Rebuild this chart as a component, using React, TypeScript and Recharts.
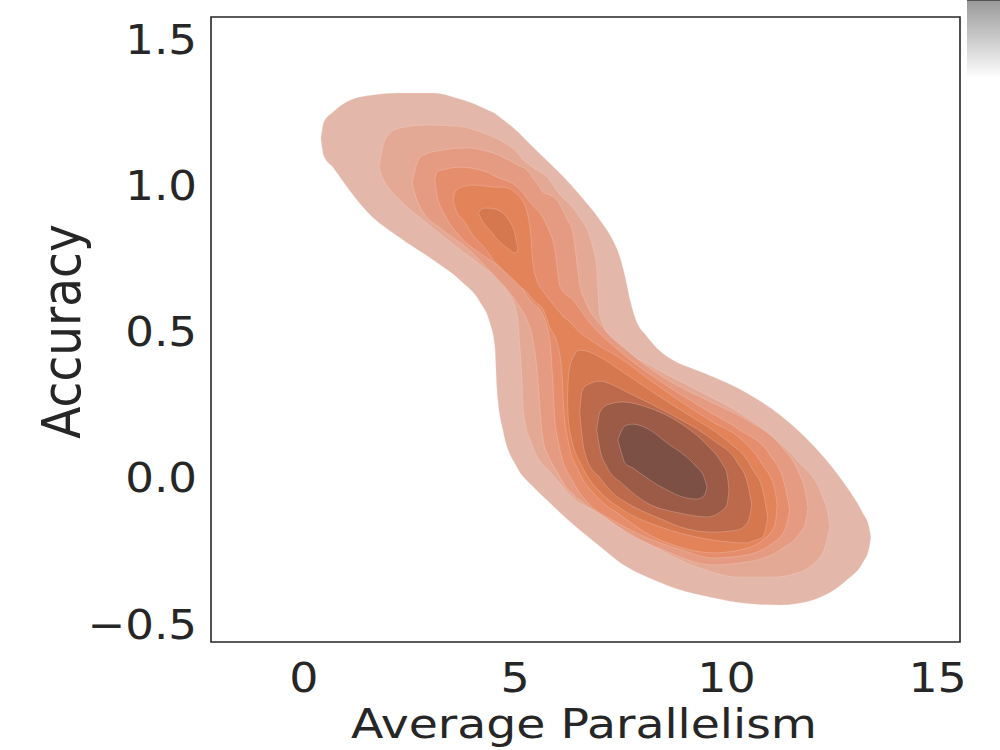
import React from "react";
import { ComposedChart, Area, XAxis, YAxis, ReferenceArea } from "recharts";

// KDE contour bands, outermost first. Each row: [x, lower y, upper y]
const level1: number[][] = [
  [0.40, 1.16, 1.16], [0.47, 1.10, 1.215], [0.69, 1.06, 1.25], [1.09, 0.98, 1.29],
  [1.49, 0.91, 1.305], [2.27, 0.82, 1.315], [3.05, 0.745, 1.315], [3.69, 0.676, 1.294],
  [4.17, 0.60, 1.269], [4.40, 0.53, 1.253], [4.52, 0.446, 1.245], [4.57, 0.30, 1.24],
  [4.71, 0.163, 1.224], [5.04, 0.037, 1.185], [5.42, -0.03, 1.13], [5.75, -0.076, 1.084],
  [6.22, -0.14, 1.017], [6.53, -0.179, 0.966], [7.01, -0.235, 0.88], [7.31, -0.271, 0.812],
  [7.48, -0.29, 0.754], [7.62, -0.303, 0.676], [7.72, -0.311, 0.607], [7.86, -0.322, 0.539],
  [8.12, -0.339, 0.483], [8.43, -0.358, 0.433], [8.78, -0.378, 0.398], [9.25, -0.397, 0.37],
  [9.68, -0.41, 0.345], [10.49, -0.43, 0.289], [11.27, -0.435, 0.214], [12.05, -0.418, 0.111],
  [12.85, -0.35, -0.032], [13.23, -0.29, -0.121], [13.38, -0.24, -0.17], [13.42, -0.205, -0.205],
];

const level2: number[][] = [
  [1.78, 1.06, 1.06], [1.85, 1.03, 1.12], [1.96, 1.0, 1.165], [2.27, 0.949, 1.195],
  [2.91, 0.87, 1.205], [3.62, 0.788, 1.202], [4.24, 0.72, 1.178], [4.80, 0.641, 1.14],
  [5.04, 0.563, 1.113], [5.11, 0.447, 1.10], [5.16, 0.334, 1.09], [5.20, 0.22, 1.085],
  [5.42, 0.105, 1.06], [5.82, 0.02, 1.017], [5.99, -0.008, 0.98], [6.46, -0.08, 0.904],
  [6.84, -0.11, 0.788], [6.93, -0.115, 0.72], [6.96, -0.118, 0.64], [7.01, -0.121, 0.55],
  [7.48, -0.17, 0.45], [8.12, -0.223, 0.39], [9.30, -0.305, 0.30], [10.32, -0.34, 0.221],
  [11.10, -0.34, 0.139], [11.67, -0.326, 0.06], [12.28, -0.257, -0.066], [12.40, -0.20, -0.12],
  [12.45, -0.168, -0.168],
];

const level3: number[][] = [
  [2.56, 1.01, 1.01], [2.65, 0.959, 1.061], [2.75, 0.925, 1.096], [3.29, 0.846, 1.12],
  [3.86, 0.785, 1.127], [4.47, 0.696, 1.11], [5.11, 0.583, 1.065], [5.28, 0.539, 1.052],
  [5.42, 0.471, 1.024], [5.54, 0.334, 1.0], [5.59, 0.231, 0.99], [5.66, 0.129, 0.976],
  [5.82, 0.065, 0.966], [5.99, 0.02, 0.949], [6.22, -0.035, 0.887], [6.37, -0.056, 0.836],
  [6.46, -0.07, 0.737], [6.53, -0.076, 0.658], [6.65, -0.09, 0.607], [7.08, -0.131, 0.512],
  [7.64, -0.186, 0.436], [8.50, -0.247, 0.344], [9.68, -0.298, 0.255], [10.49, -0.288, 0.197],
  [11.27, -0.247, 0.112], [11.74, -0.189, 0.009], [11.86, -0.161, -0.042], [11.93, -0.103, -0.103],
];

const level4: number[][] = [
  [3.10, 1.017, 1.017], [3.15, 0.966, 1.045], [3.34, 0.897, 1.054], [3.69, 0.826, 1.061],
  [4.33, 0.751, 1.045], [4.47, 0.737, 1.034], [5.11, 0.658, 0.986], [5.42, 0.595, 0.93],
  [5.59, 0.573, 0.904], [5.82, 0.471, 0.839], [5.89, 0.334, 0.812], [5.94, 0.197, 0.778],
  [5.99, 0.146, 0.72], [6.06, 0.095, 0.652], [6.37, -0.014, 0.607], [6.77, -0.093, 0.529],
  [7.31, -0.145, 0.453], [8.12, -0.205, 0.361], [8.90, -0.245, 0.286], [9.68, -0.274, 0.218],
  [10.32, -0.268, 0.163], [11.03, -0.23, 0.078], [11.38, -0.179, -0.025], [11.50, -0.11, -0.11],
];

const level5: number[][] = [
  [3.53, 0.949, 0.949], [3.60, 0.915, 0.983], [3.81, 0.874, 0.996], [4.00, 0.829, 1.0],
  [4.28, 0.785, 0.997], [4.52, 0.737, 0.993], [4.71, 0.71, 0.993], [4.99, 0.672, 0.976],
  [5.16, 0.648, 0.949], [5.30, 0.63, 0.897], [5.37, 0.617, 0.829], [5.42, 0.61, 0.734],
  [5.51, 0.597, 0.676], [5.66, 0.576, 0.638], [5.82, 0.514, 0.607], [6.01, 0.453, 0.573],
  [6.11, 0.351, 0.556], [6.15, 0.231, 0.549], [6.25, 0.129, 0.539], [6.49, 0.026, 0.502],
  [6.89, -0.059, 0.46], [7.48, -0.127, 0.409], [8.19, -0.196, 0.334], [8.90, -0.237, 0.262],
  [9.68, -0.257, 0.19], [10.32, -0.247, 0.135], [10.86, -0.213, 0.043], [11.15, -0.161, -0.042],
  [11.20, -0.093, -0.093],
];

// level 6 splits into a small upper blob and the lower peak region
const level6Upper: number[][] = [
  [4.13, 0.904, 0.904], [4.24, 0.873, 0.921], [4.40, 0.846, 0.921], [4.64, 0.805, 0.911],
  [4.88, 0.778, 0.873], [4.99, 0.768, 0.836], [5.04, 0.771, 0.80], [5.07, 0.785, 0.785],
];

const level6Lower: number[][] = [
  [6.24, 0.272, 0.272], [6.26, 0.197, 0.341], [6.34, 0.129, 0.402], [6.53, 0.054, 0.436],
  [6.77, -0.008, 0.429], [7.01, -0.049, 0.412], [7.55, -0.11, 0.361], [8.43, -0.168, 0.276],
  [9.30, -0.203, 0.197], [9.68, -0.213, 0.163], [10.08, -0.22, 0.119], [10.49, -0.223, 0.061],
  [10.63, -0.216, 0.026], [10.86, -0.203, -0.042], [10.98, -0.138, -0.138],
];

const level7: number[][] = [
  [6.53, 0.221, 0.221], [6.58, 0.146, 0.293], [6.70, 0.061, 0.317], [7.01, -0.001, 0.33],
  [7.31, -0.052, 0.317], [7.64, -0.086, 0.293], [8.12, -0.121, 0.259], [8.50, -0.144, 0.231],
  [8.90, -0.168, 0.20], [9.68, -0.186, 0.129], [10.25, -0.179, 0.054], [10.51, -0.151, -0.025],
  [10.60, -0.093, -0.093],
];

const level8: number[][] = [
  [6.93, 0.163, 0.163], [7.01, 0.095, 0.225], [7.17, 0.037, 0.248], [7.55, -0.022, 0.259],
  [8.12, -0.086, 0.241], [8.90, -0.121, 0.187], [9.54, -0.134, 0.112], [9.92, -0.11, 0.043],
  [10.01, -0.093, 0.016], [10.06, -0.042, -0.042],
];

const level9: number[][] = [
  [7.43, 0.129, 0.129], [7.53, 0.078, 0.163], [7.60, 0.05, 0.177], [7.79, 0.033, 0.183],
  [8.19, -0.008, 0.163], [8.59, -0.042, 0.119], [8.97, -0.066, 0.081], [9.30, -0.073, 0.036],
  [9.47, -0.062, 0.002], [9.54, -0.032, -0.032],
];

const bands = [
  { name: "l1", rows: level1, color: "#e4b7ab" },
  { name: "l2", rows: level2, color: "#e4a995" },
  { name: "l3", rows: level3, color: "#e59b82" },
  { name: "l4", rows: level4, color: "#e58d6c" },
  { name: "l5", rows: level5, color: "#e3835a" },
  { name: "l6a", rows: level6Upper, color: "#d5774f" },
  { name: "l6b", rows: level6Lower, color: "#d5774f" },
  { name: "l7", rows: level7, color: "#bc6a4b" },
  { name: "l8", rows: level8, color: "#9c5b46" },
  { name: "l9", rows: level9, color: "#7c5044" },
];

const xTicks = [0, 5, 10, 15];
const yTicks = [-0.5, 0, 0.5, 1.0, 1.5];
const X_DOMAIN: [number, number] = [-2.2, 15.53];
const Y_DOMAIN: [number, number] = [-0.5615, 1.5745];

const FONT = "DejaVu Sans";
const INK = "#262626";

function XTick({ x, y, payload }: any) {
  return (
    <text transform={`translate(${x},${y}) scale(1.12,1)`} textAnchor="middle" fontFamily={FONT} fontSize={41} fill={INK}>
      {payload.value}
    </text>
  );
}

function YTick({ x, y, payload }: any) {
  const v = payload.value as number;
  const label = v < 0 ? `\u2212${Math.abs(v).toFixed(1)}` : v.toFixed(1);
  return (
    <text transform={`translate(${x},${y}) scale(1.1,1)`} textAnchor="end" dy="0.36em" fontFamily={FONT} fontSize={41} fill={INK}>
      {label}
    </text>
  );
}

function XLabel({ viewBox }: any) {
  const cx = viewBox.x + viewBox.width / 2 - 1.5;
  return (
    <text transform={`translate(${cx},${viewBox.y + 96}) scale(1.155,1)`} textAnchor="middle" fontFamily={FONT} fontSize={41} fill={INK}>
      Average Parallelism
    </text>
  );
}

function YLabel({ viewBox }: any) {
  const cy = viewBox.y + viewBox.height / 2 + 2;
  return (
    <text transform={`translate(80,${cy}) scale(1.12,1) rotate(-90)`} textAnchor="middle" fontFamily={FONT} fontSize={47} fill={INK}>
      Accuracy
    </text>
  );
}

export default function App() {
  return (
    <div style={{ position: "absolute", left: 0, top: 0, width: 1000, height: 750, background: "#fff" }}>
      <ComposedChart width={1000} height={750} margin={{ top: 17, right: 40, bottom: 0, left: 11 }}>
        <XAxis
          type="number"
          dataKey="x"
          domain={X_DOMAIN}
          allowDataOverflow
          ticks={xTicks}
          height={108}
          axisLine={false}
          tickLine={false}
          tickSize={0}
          tickMargin={50}
          tick={<XTick />}
          label={<XLabel />}
        />
        <YAxis
          type="number"
          domain={Y_DOMAIN}
          allowDataOverflow
          ticks={yTicks}
          width={200}
          axisLine={false}
          tickLine={false}
          tickSize={0}
          tickMargin={14}
          tick={<YTick />}
          label={<YLabel />}
        />
        {bands.map((b) => (
          <Area
            key={b.name}
            data={b.rows.map(([x, lo, hi]) => ({ x, r: [lo, hi] }))}
            dataKey="r"
            type="monotone"
            fill={b.color}
            fillOpacity={1}
            stroke="#f6dcd2"
            strokeOpacity={0.45}
            strokeWidth={0.6}
            dot={false}
            activeDot={false}
            isAnimationActive={false}
          />
        ))}
        <ReferenceArea
          x1={X_DOMAIN[0]}
          x2={X_DOMAIN[1]}
          y1={Y_DOMAIN[0]}
          y2={Y_DOMAIN[1]}
          ifOverflow="visible"
          fill="none"
          stroke={INK}
          strokeWidth={1.6}
        />
      </ComposedChart>
      <div
        style={{
          position: "absolute",
          left: 967,
          top: 0,
          width: 33,
          height: 78,
          borderTop: "1px solid #555",
          background: "linear-gradient(#9a9a9a, #ffffff)",
        }}
      />
    </div>
  );
}
